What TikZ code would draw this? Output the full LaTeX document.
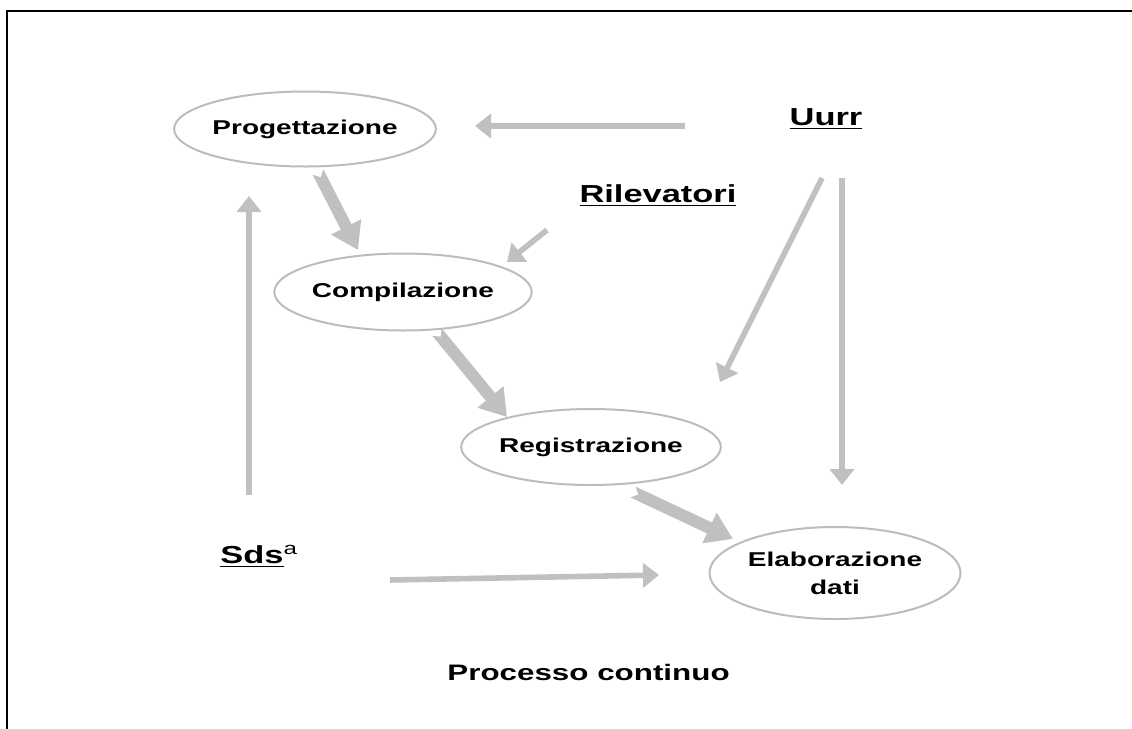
\documentclass[tikz,border=0pt]{standalone}
\usepackage{fontspec}
\setmainfont[FakeStretch=1.4]{Liberation Sans}
\usetikzlibrary{positioning, arrows.meta, shapes.geometric}
\definecolor{ArrowGrey}{RGB}{192,192,192}
\definecolor{RingGrey}{RGB}{188,188,188}

\begin{document}
\begin{tikzpicture}[x=0.5pt, y=-0.5pt, font=\fontsize{10}{14}\selectfont\bfseries]
    \tikzset{
        phase/.style={ellipse, draw=RingGrey, line width=1pt, fill=white,
            inner sep=0pt, minimum width=125.5pt, align=center},
        actor/.style={inner sep=0pt, font=\fontsize{12.3}{14}\selectfont\bfseries},
        flow/.style={draw=ArrowGrey, line width=2.8pt,
            -{Triangle[length=8pt, width=12pt]}},
        bigflow/.style={draw=ArrowGrey, line width=6pt,
            {Triangle Cap[reversed, length=3pt]}-{Triangle[length=13pt, width=16pt]}}
    }
    \useasboundingbox (0,0) rectangle (1132,729);
    \draw[line width=1pt] (7,729) -- (7,11) -- (1132,11);
    % fasi del processo
    \node[phase, minimum height=37.5pt] (prog) at (305,129) {Progettazione};
    \node[phase, minimum height=38.5pt] (comp) at (403,292) {Compilazione};
    \node[phase, minimum height=38pt] (regi) at (591,447) {Registrazione};
    \node[phase, minimum height=46pt] (elab) at (835,573) {Elaborazione\\dati};
    % soggetti
    \node[actor, anchor=base] (uurr) at (826,125) {\underline{Uurr}};
    \node[actor, anchor=base] (rilev) at (658,202) {\underline{Rilevatori}};
    \node[actor, anchor=base west] (sds) at (220,563) {\underline{Sds}\textsuperscript{\mdseries a}};
    \node[anchor=base west, inner sep=0pt, font=\fontsize{11.2}{14}\selectfont\bfseries]
        (proc) at (447,680) {Processo continuo};
    % estremi liberi delle frecce
    \coordinate (uurrW) at (685,126);
    \coordinate (uurrA) at (822,178);
    \coordinate (uurrB) at (842,178);
    \coordinate (rilevS) at (547,230);
    \coordinate (sdsN) at (249,495);
    \coordinate (sdsE) at (390,580);
    \coordinate (progIn) at (475,126);
    \coordinate (progOut) at (318,172);
    \coordinate (compIn) at (358,250);
    \coordinate (compRil) at (507,262);
    \coordinate (compOut) at (437,332);
    \coordinate (regiIn) at (507,417);
    \coordinate (regiUr) at (720,382);
    \coordinate (regiOut) at (633,492);
    \coordinate (elabIn) at (733,539);
    \coordinate (elabUr) at (842,485);
    \coordinate (elabSds) at (659,575);
    \coordinate (progSds) at (249,196);
    \draw[flow] (uurrW) -- (progIn);
    \draw[flow] (uurrA) -- (regiUr);
    \draw[flow] (uurrB) -- (elabUr);
    \draw[flow] (rilevS) -- (compRil);
    \draw[flow] (sdsN) -- (progSds);
    \draw[flow] (sdsE) -- (elabSds);
    \draw[bigflow] (progOut) -- (compIn);
    \draw[bigflow] (compOut) -- (regiIn);
    \draw[bigflow] (regiOut) -- (elabIn);
\end{tikzpicture}
\end{document}
